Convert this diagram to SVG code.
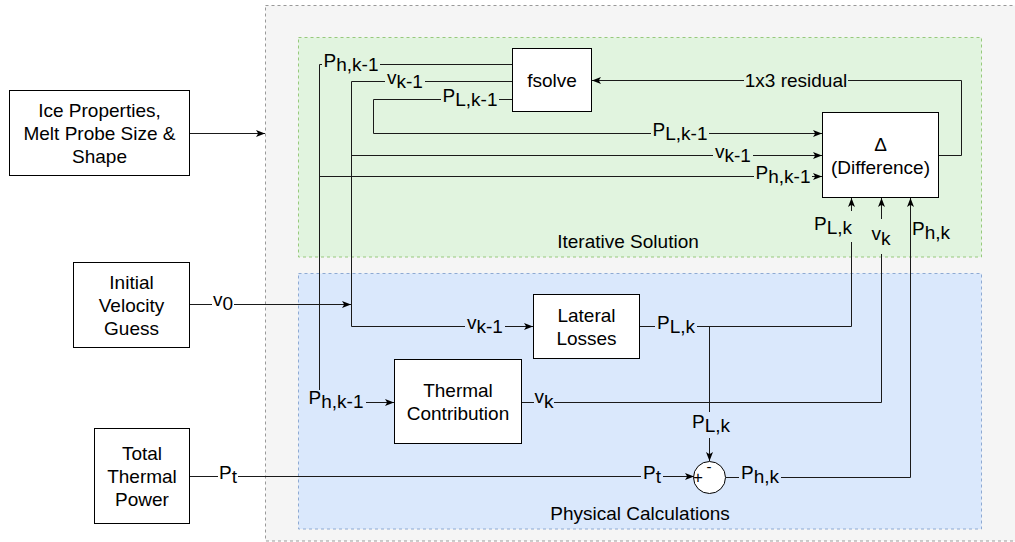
<svg xmlns="http://www.w3.org/2000/svg" width="1015" height="542" viewBox="0 0 1015 542">
<style>
text{font-family:"Liberation Sans",Arial,Helvetica,sans-serif;font-size:19px;fill:#000}
.m{text-anchor:middle}
.node{fill:#fff;stroke:#000;stroke-width:1}
.w{stroke:#1a1a1a;stroke-width:1;fill:none}
.a{marker-end:url(#arr)}
.bg{fill:#e1f4df}
.bb{fill:#dae8fc}
.bw{fill:#fff}
</style>
<defs>
<marker id="arr" markerUnits="userSpaceOnUse" markerWidth="10" markerHeight="9" refX="9" refY="4.5" orient="auto">
<path d="M0,1 L9,4.5 L0,8 L2.2,4.5 Z" fill="#000"/>
</marker>
</defs>
<g id="containers">
<rect id="outer" x="265.5" y="5.5" width="760" height="535.5" fill="#f5f5f5" stroke="#999" stroke-dasharray="3 3"/>
<rect id="iterative" x="298.5" y="37.5" width="683" height="219.5" fill="#e1f4df" stroke="#97c97c" stroke-dasharray="3 3"/>
<rect id="physical" x="298.5" y="273.5" width="683" height="255.5" fill="#dae8fc" stroke="#8eaad3" stroke-dasharray="3 3"/>
<text class="m" x="628" y="248">Iterative Solution</text>
<text class="m" x="640" y="520">Physical Calculations</text>
</g>
<g id="connectors">
<path class="w a" d="M190,133.5 H265"/>
<path class="w a" d="M190,304.5 H351"/>
<path class="w a" d="M190,476.5 H694"/>
<path class="w a" d="M512,64.5 H319.5 V402.5 H394"/>
<path class="w a" d="M319.5,176.5 H822"/>
<path class="w a" d="M512,81.5 H351.5 V326.5 H533"/>
<path class="w a" d="M351.5,155.5 H822"/>
<path class="w a" d="M512,99.5 H373.5 V133.5 H822"/>
<path class="w a" d="M939,155.5 H961.5 V80.5 H592"/>
<path class="w a" d="M640,326.5 H851.5 V198"/>
<path class="w a" d="M709.5,326.5 V461"/>
<path class="w a" d="M522,402.5 H881.5 V198"/>
<path class="w a" d="M726,477.5 H910.5 V198"/>
</g>
<g id="labels">
<rect class="bw" x="212" y="293" width="22" height="24"/>
<text class="m" x="223" y="306">v<tspan dy="4">0</tspan></text>
<rect class="bw" x="218" y="465" width="20" height="24"/>
<text class="m" x="228" y="479">P<tspan dy="4">t</tspan></text>
<rect class="bg" x="322" y="52" width="58" height="24"/>
<text class="m" x="351" y="67">P<tspan dy="4">h,k-1</tspan></text>
<rect class="bg" x="385" y="69" width="40" height="23"/>
<text class="m" x="405" y="84">v<tspan dy="4">k-1</tspan></text>
<rect class="bg" x="441" y="88" width="58" height="23"/>
<text class="m" x="470" y="102">P<tspan dy="4">L,k-1</tspan></text>
<rect class="bg" x="651" y="122" width="58" height="22"/>
<text class="m" x="680" y="136">P<tspan dy="4">L,k-1</tspan></text>
<rect class="bg" x="713" y="145" width="40" height="21"/>
<text class="m" x="733" y="158">v<tspan dy="4">k-1</tspan></text>
<rect class="bg" x="754" y="166" width="58" height="21"/>
<text class="m" x="783" y="179">P<tspan dy="4">h,k-1</tspan></text>
<rect class="bg" x="744" y="69" width="104" height="22"/>
<text class="m" x="796" y="87">1x3 residual</text>
<rect class="bg" x="813" y="211" width="40" height="31"/>
<text class="m" x="833" y="230">P<tspan dy="4">L,k</tspan></text>
<rect class="bg" x="871" y="219" width="21" height="35"/>
<text class="m" x="881" y="240">v<tspan dy="5">k</tspan></text>
<text x="912" y="235">P<tspan dy="4">h,k</tspan></text>
<rect class="bb" x="465" y="315" width="40" height="23"/>
<text class="m" x="485" y="329">v<tspan dy="4">k-1</tspan></text>
<rect class="bb" x="655" y="315" width="42" height="23"/>
<text class="m" x="676" y="329">P<tspan dy="4">L,k</tspan></text>
<rect class="bb" x="307" y="390" width="59" height="25"/>
<text class="m" x="336" y="404">P<tspan dy="4">h,k-1</tspan></text>
<rect class="bb" x="534" y="390" width="20" height="24"/>
<text class="m" x="544" y="403">v<tspan dy="5">k</tspan></text>
<rect class="bb" x="690" y="412" width="42" height="26"/>
<text class="m" x="711" y="428">P<tspan dy="4">L,k</tspan></text>
<rect class="bb" x="641" y="465" width="22" height="24"/>
<text class="m" x="652" y="479">P<tspan dy="4">t</tspan></text>
<rect class="bb" x="739" y="465" width="42" height="24"/>
<text class="m" x="760" y="479">P<tspan dy="4">h,k</tspan></text>
</g>
<g id="ice-properties">
<rect class="node" x="9.5" y="90.5" width="180" height="85"/>
<text class="m" x="99.5" y="117">Ice Properties,</text>
<text class="m" x="99.5" y="140">Melt Probe Size &amp;</text>
<text class="m" x="99.5" y="163">Shape</text>
</g>
<g id="initial-velocity">
<rect class="node" x="73.5" y="262.5" width="116" height="85"/>
<text class="m" x="131.5" y="289">Initial</text>
<text class="m" x="131.5" y="312">Velocity</text>
<text class="m" x="131.5" y="335">Guess</text>
</g>
<g id="total-power">
<rect class="node" x="94.5" y="428.5" width="95" height="95"/>
<text class="m" x="142" y="460">Total</text>
<text class="m" x="142" y="483">Thermal</text>
<text class="m" x="142" y="506">Power</text>
</g>
<g id="fsolve">
<rect class="node" x="512.5" y="48.5" width="79" height="63"/>
<text class="m" x="552" y="87">fsolve</text>
</g>
<g id="difference">
<rect class="node" x="822.5" y="112.5" width="116" height="85"/>
<text class="m" x="880.5" y="151">Δ</text>
<text class="m" x="880.5" y="174">(Difference)</text>
</g>
<g id="lateral-losses">
<rect class="node" x="533.5" y="294.5" width="106" height="64"/>
<text class="m" x="586.5" y="322">Lateral</text>
<text class="m" x="586.5" y="345">Losses</text>
</g>
<g id="thermal-contribution">
<rect class="node" x="394.5" y="359.5" width="127" height="84"/>
<text class="m" x="458" y="397">Thermal</text>
<text class="m" x="458" y="420">Contribution</text>
</g>
<g id="sum">
<circle cx="709.5" cy="477.5" r="16" fill="#fff" stroke="#000"/>
<text class="m" x="698" y="483" style="font-size:17px">+</text>
<text class="m" x="709" y="472" style="font-size:15px">-</text>
</g>
</svg>
